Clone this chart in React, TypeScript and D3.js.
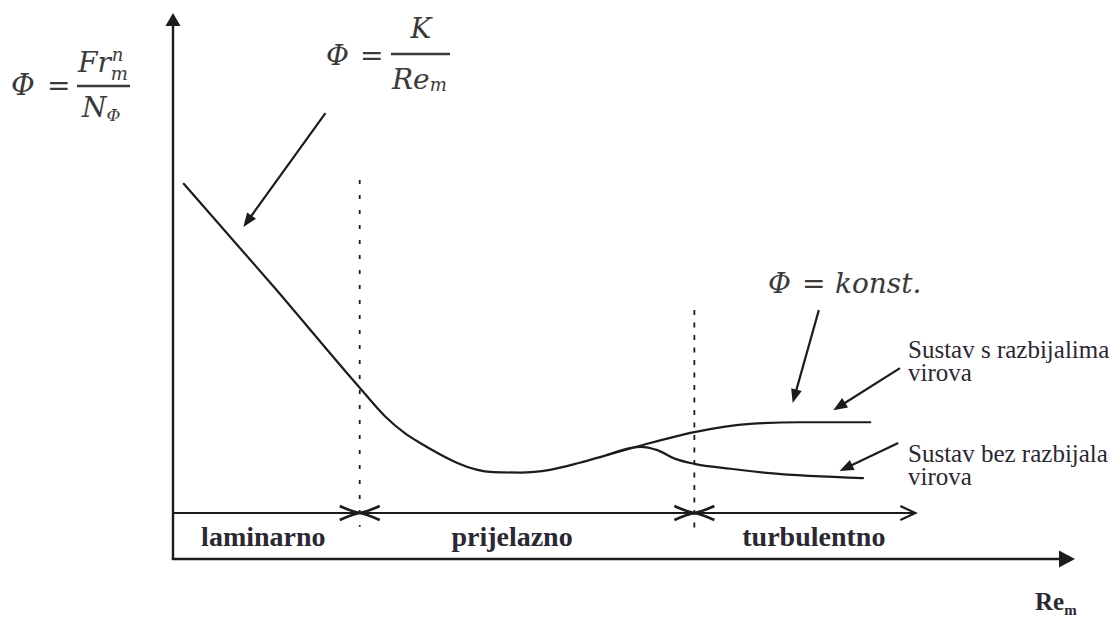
import React, { useEffect, useRef } from 'react';
import * as d3 from 'd3';

const W = 1118;
const H = 619;

// values, arbitrary units (Re_m along x, Phi along y, 0..100)
const trunkRe = [1.2, 11.1, 20.7, 23.5, 25.7, 27.4, 35.5, 38.5, 41.8, 45.1, 48.1, 51.8, 57.8, 64.0, 69.5, 77.3];
const trunkPhi = [68.6, 49.9, 31.3, 26.1, 23.0, 21.2, 15.9, 15.8, 16.3, 17.6, 19.0, 20.7, 23.2, 24.7, 25.0, 25.0];
const lowerRe = [48.1, 51.8, 53.7, 55.7, 57.8, 61.8, 66.2, 76.5];
const lowerPhi = [19.0, 20.5, 19.9, 18.3, 17.4, 16.5, 15.7, 14.8];

const regions = ['laminarno', 'prijelazno', 'turbulentno'];
const regionBounds = [0, 20.7, 57.8, 82.3];
const dividerTop = [69.3, 45.5];
const dividerBottom = [5.9, 5.3];
const regionAxisPhi = 8.4;

// pointer arrows [fromRe, fromPhi, toRe, toPhi]
const pointers = [
  [16.9, 81.5, 7.8, 60.7],
  [71.6, 45.5, 68.7, 28.5],
  [80.6, 34.9, 73.2, 27.2],
  [80.4, 21.2, 73.9, 16.1],
];

const ink = '#1c1c1c';
const textInk = '#2b2733';
const mathInk = '#3a3a3a';
const serif = "'Liberation Serif', 'Times New Roman', serif";
const math = "'DejaVu Serif', serif";

export default function App() {
  const ref = useRef<SVGSVGElement>(null);

  useEffect(() => {
    const svg = d3.select(ref.current);
    svg.selectAll('*').remove();

    const x = d3.scaleLinear().domain([0, 100]).range([173, 1075]);
    const y = d3.scaleLinear().domain([0, 100]).range([559, 12]);

    const head = (tx: number, ty: number, fx: number, fy: number, len: number, hw: number) => {
      const dx = tx - fx, dy = ty - fy;
      const d = Math.hypot(dx, dy);
      const ux = dx / d, uy = dy / d;
      const bx = tx - ux * len, by = ty - uy * len;
      return `M${tx},${ty}L${bx - uy * hw},${by + ux * hw}L${bx + uy * hw},${by - ux * hw}Z`;
    };

    // axes
    svg.append('line')
      .attr('x1', x(0)).attr('y1', y(0)).attr('x2', x(0)).attr('y2', y(97.8))
      .attr('stroke', ink).attr('stroke-width', 2.4);
    svg.append('path')
      .attr('d', head(x(0), y(99.8), x(0), y(0), 13, 7.5))
      .attr('fill', ink);
    svg.append('line')
      .attr('x1', x(0) - 1.2).attr('y1', y(0)).attr('x2', x(98.6)).attr('y2', y(0))
      .attr('stroke', ink).attr('stroke-width', 2.4);
    svg.append('path')
      .attr('d', head(x(100), y(0), x(0), y(0), 16, 8.5))
      .attr('fill', ink);

    // region axis with open arrow
    const ra = y(regionAxisPhi);
    const end = x(regionBounds[3]);
    svg.append('line')
      .attr('x1', x(0)).attr('y1', ra).attr('x2', end).attr('y2', ra)
      .attr('stroke', ink).attr('stroke-width', 2);
    svg.append('path')
      .attr('d', `M${end - 15},${ra - 7}L${end},${ra}L${end - 15},${ra + 7}`)
      .attr('fill', 'none').attr('stroke', ink).attr('stroke-width', 2.2);

    // dividers
    [1, 2].forEach((b, i) => {
      svg.append('line')
        .attr('x1', x(regionBounds[b])).attr('x2', x(regionBounds[b]))
        .attr('y1', y(dividerTop[i])).attr('y2', y(dividerBottom[i]))
        .attr('stroke', ink).attr('stroke-width', 1.8)
        .attr('stroke-dasharray', i === 0 ? '4,11' : '5,7.5');
      const cx = x(regionBounds[b]);
      // two arrow tips meeting at the boundary
      [-1, 1].forEach(s => {
        svg.append('path')
          .attr('d', `M${cx + s * 20},${ra - 7}Q${cx + s * 8},${ra - 1.5} ${cx},${ra}Q${cx + s * 8},${ra + 1.5} ${cx + s * 20},${ra + 7}`)
          .attr('fill', 'none').attr('stroke', ink).attr('stroke-width', 2.6);
      });
    });

    // region labels
    svg.selectAll('text.region').data(regions).join('text')
      .attr('class', 'region')
      .attr('x', (d, i) => x((regionBounds[i] + regionBounds[i + 1]) / 2) + [-3, -15, 9][i])
      .attr('y', y(2.4))
      .attr('text-anchor', 'middle')
      .style('font-family', serif)
      .attr('font-weight', 'bold')
      .attr('font-size', 28)
      .attr('fill', textInk)
      .text(d => d);

    // curves
    const line = d3.line<[number, number]>()
      .x(d => x(d[0])).y(d => y(d[1]))
      .curve(d3.curveMonotoneX);
    const trunk = trunkRe.map((v, i) => [v, trunkPhi[i]] as [number, number]);
    const lower = lowerRe.map((v, i) => [v, lowerPhi[i]] as [number, number]);
    [trunk, lower].forEach(s => {
      svg.append('path').attr('d', line(s))
        .attr('fill', 'none').attr('stroke', ink).attr('stroke-width', 2.2)
        .attr('stroke-linecap', 'round');
    });

    // pointers
    pointers.forEach(p => {
      const fx = x(p[0]), fy = y(p[1]), tx = x(p[2]), ty = y(p[3]);
      const d = Math.hypot(tx - fx, ty - fy);
      svg.append('line')
        .attr('x1', fx).attr('y1', fy)
        .attr('x2', tx - (tx - fx) / d * 8).attr('y2', ty - (ty - fy) / d * 8)
        .attr('stroke', ink).attr('stroke-width', 2.2);
      svg.append('path').attr('d', head(tx, ty, fx, fy, 14, 5.5)).attr('fill', ink);
    });

    // right labels
    const lab = (t: string, lx: number, ly: number) =>
      svg.append('text').attr('x', lx).attr('y', ly)
        .style('font-family', serif).attr('font-size', 25)
        .attr('fill', textInk).text(t);
    lab('Sustav s razbijalima', 908, 358);
    lab('virova', 908, 381);
    lab('Sustav bez razbijala', 908, 462);
    lab('virova', 908, 485);

    // Re_m axis title
    const ax = svg.append('text').attr('x', 1035).attr('y', 610)
      .style('font-family', serif).attr('font-weight', 'bold')
      .attr('font-size', 25).attr('fill', textInk);
    ax.append('tspan').text('Re');
    ax.append('tspan').attr('font-size', 15).attr('dy', 5).text('m');

    // formulas
    const mt = (t: string, mx: number, my: number, size: number, italic = true, anchor = 'start') => {
      const el = svg.append('text').attr('x', mx).attr('y', my)
        .style('font-family', math)
        .attr('font-style', italic ? 'italic' : 'normal')
        .attr('font-size', size).attr('text-anchor', anchor)
        .attr('fill', mathInk).text(t);
      return mx + (el.node() as SVGTextElement).getComputedTextLength();
    };
    const bar = (x1: number, x2: number, by: number) =>
      svg.append('line').attr('x1', x1).attr('x2', x2).attr('y1', by).attr('y2', by)
        .attr('stroke', mathInk).attr('stroke-width', 2.6);

    mt('Φ', 11, 95, 29);
    mt('=', 47, 95, 28, false);
    const fr = mt('Fr', 78, 72, 28);
    mt('n', fr + 1, 61, 18);
    mt('m', fr, 80, 18);
    bar(77, 130, 86);
    const nn = mt('N', 82, 117, 28);
    mt('Φ', nn, 121, 17);

    mt('Φ', 326, 65, 28);
    mt('=', 360, 65, 28, false);
    mt('K', 421, 38, 28, true, 'middle');
    bar(391, 450, 54);
    const re = mt('Re', 392, 89, 28);
    mt('m', re, 91, 18);

    mt('Φ', 768, 293, 28);
    mt('=', 802, 293, 28, false);
    mt('konst.', 835, 293, 28);
  }, []);

  return (
    <svg ref={ref} width={W} height={H}
      style={{ position: 'absolute', left: 0, top: 0, background: '#fff' }} />
  );
}
